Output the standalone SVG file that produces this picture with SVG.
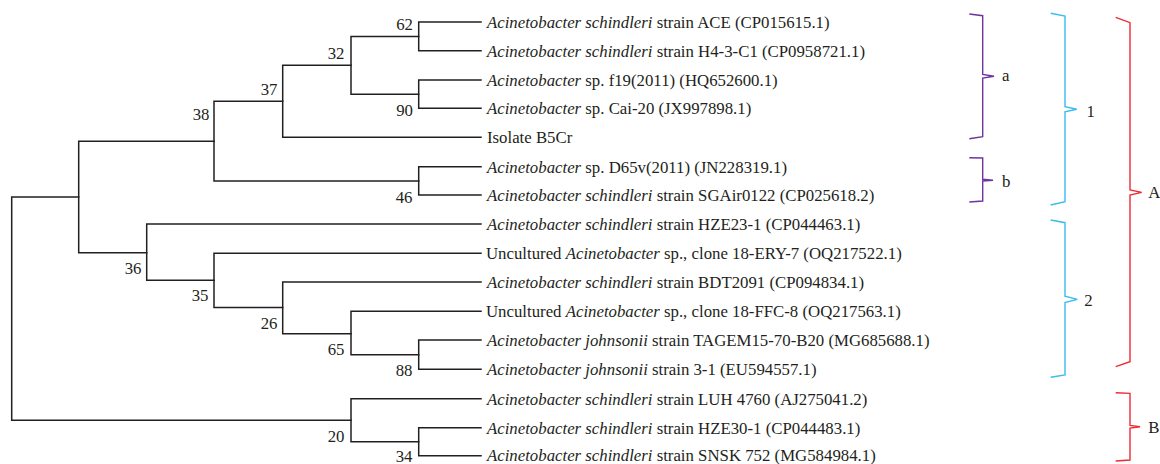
<svg xmlns="http://www.w3.org/2000/svg" width="1160" height="464" viewBox="0 0 1160 464">
<style>
text{font-family:"Liberation Serif","Times New Roman",serif;font-size:16.8px;fill:#231f20}
.bs{text-anchor:end}
.tree path{fill:none;stroke:#231f20;stroke-width:1.5;stroke-linecap:square}
.br{fill:none;stroke-width:1.4;stroke-linejoin:miter}
.pu{stroke:#7034a0}
.bl{stroke:#37bdf0}
.rd{stroke:#ee2a32}
</style>
<rect width="1160" height="464" fill="#ffffff"/>
<g id="connectors" class="tree">
<path d="M418.7,22V50.7M418.7,22H481M418.7,50.7H481"/>
<path d="M418.7,80V108.3M418.7,80H481M418.7,108.3H481"/>
<path d="M351,36.4V94.2M351,36.4H418.7M351,94.2H418.7"/>
<path d="M282.7,65.3V137.3M282.7,65.3H351M282.7,137.3H481"/>
<path d="M418.7,166.7V195M418.7,166.7H481M418.7,195H481"/>
<path d="M214,101.3V180.9M214,101.3H282.7M214,180.9H418.7"/>
<path d="M418.7,340V369.3M418.7,340H481M418.7,369.3H481"/>
<path d="M351,311.3V354.7M351,311.3H481M351,354.7H418.7"/>
<path d="M282.7,282V333.7M282.7,282H481M282.7,333.7H351"/>
<path d="M214,253.3V307.5M214,253.3H481M214,307.5H282.7"/>
<path d="M146.7,224V280.2M146.7,224H481M146.7,280.2H214"/>
<path d="M78.7,141.3V252.7M78.7,141.3H214M78.7,252.7H146.7"/>
<path d="M418.7,427.7V455.7M418.7,427.7H481M418.7,455.7H481"/>
<path d="M351,398.7V441.7M351,398.7H481M351,441.7H418.7"/>
<path d="M11.7,197V420.2M11.7,197H78.7M11.7,420.2H351"/>
</g>
<g id="leaf-ACE"><text x="487" y="27.8"><tspan font-style="italic">Acinetobacter schindleri</tspan> strain ACE (CP015615.1)</text></g>
<g id="leaf-H4-3-C1"><text x="487" y="56.5"><tspan font-style="italic">Acinetobacter schindleri</tspan> strain H4-3-C1 (CP0958721.1)</text></g>
<g id="leaf-f19"><text x="487" y="85.8"><tspan font-style="italic">Acinetobacter</tspan> sp. f19(2011) (HQ652600.1)</text></g>
<g id="leaf-Cai-20"><text x="487" y="114.1"><tspan font-style="italic">Acinetobacter</tspan> sp. Cai-20 (JX997898.1)</text></g>
<g id="leaf-B5Cr"><text x="487" y="143.1">Isolate B5Cr</text></g>
<g id="leaf-D65v"><text x="487" y="172.5"><tspan font-style="italic">Acinetobacter</tspan> sp. D65v(2011) (JN228319.1)</text></g>
<g id="leaf-SGAir0122"><text x="487" y="200.8"><tspan font-style="italic">Acinetobacter schindleri</tspan> strain SGAir0122 (CP025618.2)</text></g>
<g id="leaf-HZE23-1"><text x="487" y="229.8"><tspan font-style="italic">Acinetobacter schindleri</tspan> strain HZE23-1 (CP044463.1)</text></g>
<g id="leaf-18-ERY-7"><text x="486" y="259.1">Uncultured <tspan font-style="italic">Acinetobacter</tspan> sp., clone 18-ERY-7 (OQ217522.1)</text></g>
<g id="leaf-BDT2091"><text x="487" y="287.8"><tspan font-style="italic">Acinetobacter schindleri</tspan> strain BDT2091 (CP094834.1)</text></g>
<g id="leaf-18-FFC-8"><text x="486" y="317.1">Uncultured <tspan font-style="italic">Acinetobacter</tspan> sp., clone 18-FFC-8 (OQ217563.1)</text></g>
<g id="leaf-TAGEM15-70-B20"><text x="487" y="345.8"><tspan font-style="italic">Acinetobacter johnsonii</tspan> strain TAGEM15-70-B20 (MG685688.1)</text></g>
<g id="leaf-3-1"><text x="487" y="375.1"><tspan font-style="italic">Acinetobacter johnsonii</tspan> strain 3-1 (EU594557.1)</text></g>
<g id="leaf-LUH4760"><text x="487" y="404.5"><tspan font-style="italic">Acinetobacter schindleri</tspan> strain LUH 4760 (AJ275041.2)</text></g>
<g id="leaf-HZE30-1"><text x="487" y="433.5"><tspan font-style="italic">Acinetobacter schindleri</tspan> strain HZE30-1 (CP044483.1)</text></g>
<g id="leaf-SNSK752"><text x="487" y="461.3"><tspan font-style="italic">Acinetobacter schindleri</tspan> strain SNSK 752 (MG584984.1)</text></g>
<g id="bootstrap">
<text class="bs" x="413" y="30">62</text>
<text class="bs" x="344.5" y="59.3">32</text>
<text class="bs" x="277.5" y="95">37</text>
<text class="bs" x="209.5" y="120">38</text>
<text class="bs" x="413" y="116">90</text>
<text class="bs" x="412.5" y="202.5">46</text>
<text class="bs" x="141.5" y="274">36</text>
<text class="bs" x="208.5" y="301">35</text>
<text class="bs" x="277.5" y="329.3">26</text>
<text class="bs" x="344.5" y="355">65</text>
<text class="bs" x="412.5" y="376">88</text>
<text class="bs" x="344.5" y="441.7">20</text>
<text class="bs" x="412.5" y="462">34</text>
</g>
<g id="bracket-a"><path class="br pu" d="M969.3,14L982.7,15.7V74.5L994,76.2L982.7,78V136.7L969.3,138.7"/><text x="1002" y="80.7">a</text></g>
<g id="bracket-b"><path class="br pu" d="M969.3,157.7L982.7,158V179.3L993,180.3L982.7,181V201L969.3,202"/><text x="1002" y="186.7">b</text></g>
<g id="bracket-1"><path class="br bl" d="M1050.7,13.3L1065,16V106.7L1076.7,109.2L1065,111.7V201.7L1050.7,205"/><text x="1086.5" y="116.7">1</text></g>
<g id="bracket-2"><path class="br bl" d="M1050.7,220L1065,222.7V296.3L1077.3,299.4L1065,302.5V375L1050.7,377.3"/><text x="1084.3" y="306">2</text></g>
<g id="bracket-A"><path class="br rd" d="M1115.7,17.3L1130,22.7V190L1141.7,192.4L1130,195V361.7L1115.7,366.7"/><text x="1148.3" y="198.3">A</text></g>
<g id="bracket-B"><path class="br rd" d="M1115.7,392.7L1130,393.3V425.5L1140,426.7L1130,428V460L1115.7,461"/><text x="1148.3" y="433.3">B</text></g>
</svg>
